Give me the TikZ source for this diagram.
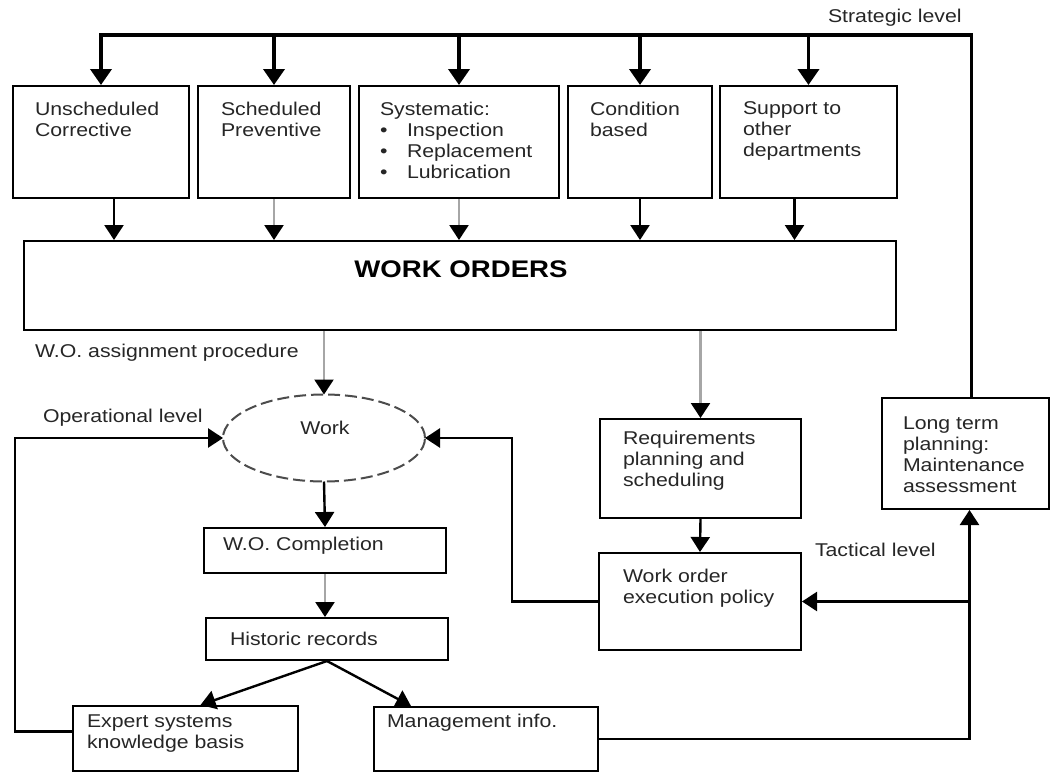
\documentclass[tikz,border=0pt]{standalone}
\usepackage{fontspec}
\setmainfont{Liberation Sans}[FakeStretch=1.15]
\usetikzlibrary{arrows.meta,shapes.geometric}
\begin{document}
\begin{tikzpicture}[x=1pt,y=-1pt,
  every node/.style={font=\fontsize{18.5}{21}\selectfont, inner sep=0pt, outer sep=0pt},
  box/.style={draw, line width=2pt, anchor=north west, inner sep=0pt, outer sep=1pt},
  txt/.style={anchor=north west, align=left, text=black!85},
  lbl/.style={anchor=base west, text=black!85},
  busarr/.style={line width=3.8pt, line join=miter, -{Triangle[length=16pt,width=21pt]}},
  arr/.style={line width=2.4pt, -{Triangle[length=15pt,width=19pt]}},
  garr/.style={line width=2.4pt, draw=black!35, -{Triangle[length=15pt,width=19pt,color=black]}},
]
\useasboundingbox (0,0) rectangle (1050,774);
\fill[white] (0,0) rectangle (1050,774);

% top boxes
\node[box, minimum width=176pt, minimum height=112pt] (b1) at (12,85) {};
\node[box, minimum width=152pt, minimum height=112pt] (b2) at (197,85) {};
\node[box, minimum width=200pt, minimum height=112pt] (b3) at (358,85) {};
\node[box, minimum width=144pt, minimum height=112pt] (b4) at (567,85) {};
\node[box, minimum width=177pt, minimum height=112pt] (b5) at (719,85) {};
\node[txt] (b1t) at (35,102) {Unscheduled\\Corrective};
\node[txt] (b2t) at (221,102) {Scheduled\\Preventive};
\node[txt] (b3t) at (380,102) {Systematic:\\\makebox[27pt][l]{\textbullet}Inspection\\\makebox[27pt][l]{\textbullet}Replacement\\\makebox[27pt][l]{\textbullet}Lubrication};
\node[txt] (b4t) at (590,102) {Condition\\based};
\node[txt] (b5t) at (743,102) {Support to\\other\\departments};

% work orders
\node[box, minimum width=872pt, minimum height=89pt] (wo) at (23,240) {};
\node[anchor=base, font=\bfseries\fontsize{24}{26}\selectfont] (wot) at (461,277) {WORK ORDERS};

% work ellipse
\node[ellipse, draw=black!70, dash pattern=on 12pt off 5pt, line width=2pt, minimum width=202pt, minimum height=87pt] (work) at (324,438) {};
\node[anchor=base, text=black!85] (workt) at (325,434) {Work};

% other boxes
\node[box, minimum width=201pt, minimum height=99pt] (req) at (599,418) {};
\node[txt] (reqt) at (623,431) {Requirements\\planning and\\scheduling};
\node[box, minimum width=202pt, minimum height=97pt] (woe) at (598,552) {};
\node[txt] (woet) at (623,569) {Work order\\execution policy};
\node[box, minimum width=167pt, minimum height=111pt] (lt) at (881,397) {};
\node[txt] (ltt) at (903,417) {Long term\\planning:\\Maintenance\\assessment};
\node[box, minimum width=242pt, minimum height=45pt] (woc) at (203,527) {};
\node[lbl] (woct) at (223,550) {W.O. Completion};
\node[box, minimum width=242pt, minimum height=42pt] (hr) at (205,617) {};
\node[lbl] (hrt) at (230,645) {Historic records};
\node[box, minimum width=225pt, minimum height=65pt] (exp) at (72,705) {};
\node[txt] (expt) at (87,715) {Expert systems\\knowledge basis};
\node[box, minimum width=224pt, minimum height=64pt] (mgt) at (373,706) {};
\node[lbl] (mgtt) at (387,727) {Management info.};

% labels
\node[lbl] (strat) at (828,22) {Strategic level};
\node[lbl] (tact) at (815,556) {Tactical level};
\node[lbl] (oper) at (43,422) {Operational level};
\node[lbl] (assign) at (35,357) {W.O. assignment procedure};

% strategic bus
\coordinate (top) at (0,35);
\draw[busarr] ([xshift=6pt]lt.north) |- (b1.north |- top) -- (b1.north);
\draw[busarr] (b2.north |- top) -- (b2.north);
\draw[busarr] (b3.north |- top) -- (b3.north);
\draw[busarr] (b4.north |- top) -- (b4.north);
\draw[busarr] (b5.north |- top) -- (b5.north);

% to work orders
\draw[arr] ([xshift=13pt]b1.south) -- ([xshift=13pt]b1.south |- wo.north);
\draw[garr] (b2.south) -- (b2.south |- wo.north);
\draw[garr] (b3.south) -- (b3.south |- wo.north);
\draw[arr] (b4.south) -- (b4.south |- wo.north);
\draw[arr] ([xshift=-14pt]b5.south) -- ([xshift=-14pt]b5.south |- wo.north);

% from work orders
\draw[garr] (wo.south -| work.north) -- (work.north);
\draw[garr] (wo.south -| req.north) -- (req.north);
\draw[arr] (req.south) -- (woe.north);

% operational chain
\draw[arr] (work.south) -- (woc.north);
\draw[garr] (woc.south) -- (woc.south |- hr.north);
\draw[arr] (hr.south) -- ([xshift=15pt]exp.north);
\draw[arr] (hr.south) -- ([xshift=-75pt]mgt.north);

% loops
\coordinate (lx) at (15,0);
\coordinate (rx) at (512,0);
\draw[arr, line width=2.8pt] ([yshift=7pt]exp.west) -| (lx |- work.west) -- (work.west);
\draw[arr, line width=2.8pt] (woe.west) -| (rx |- work.east) -- (work.east);
\draw[arr] (mgt.east) -| ([xshift=4pt]lt.south);
\draw[arr] ([xshift=4pt]lt.south |- woe.east) -- (woe.east);
\end{tikzpicture}
\end{document}
